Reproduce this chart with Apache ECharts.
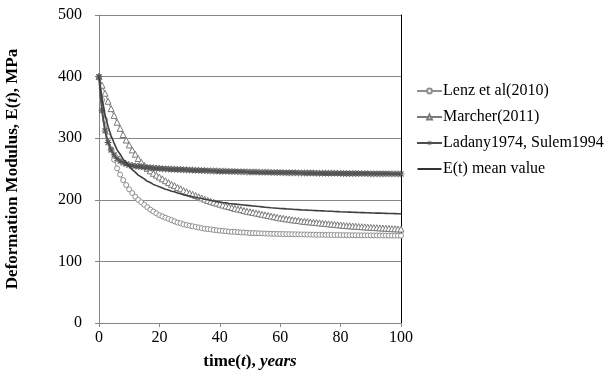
<!DOCTYPE html>
<html>
<head>
<meta charset="utf-8">
<script src="https://cdn.jsdelivr.net/npm/echarts@6/dist/echarts.min.js"></script>
<style>
  html, body { margin: 0; padding: 0; background: #ffffff; }
  #chart { width: 606px; height: 376px; }
</style>
</head>
<body>
<div id="chart"></div>
<script>
// years 0..100, one point per year
const years = Array.from({ length: 101 }, (_, i) => i);

const xTicks = [0, 20, 40, 60, 80, 100];
const yTicks = [0, 100, 200, 300, 400, 500];

const lenz = [
  400, 362, 330, 303, 282, 265, 251, 241, 232, 224,
  217, 211, 205, 200, 196, 192, 188, 184, 181, 178,
  175, 173, 171, 169, 167, 165, 163, 162, 160, 159,
  158, 157, 156, 155, 154, 153, 152.5, 152, 151, 150.5,
  150, 149.5, 149, 148.5, 148, 148, 147.5, 147, 147, 146.5,
  146, 146, 145.8, 145.6, 145.4, 145.2, 145, 144.8, 144.7, 144.6,
  144.5, 144.4, 144.3, 144.2, 144.1, 144, 143.9, 143.8, 143.7, 143.6,
  143.5, 143.4, 143.3, 143.2, 143.1, 143, 143, 142.9, 142.8, 142.8,
  142.7, 142.6, 142.6, 142.5, 142.5, 142.4, 142.4, 142.3, 142.3, 142.2,
  142.2, 142.1, 142.1, 142, 142, 142, 141.9, 141.9, 141.9, 141.8,
  141.8
];

const marcher = [
  400, 386, 373, 360, 348, 337, 326, 316, 306, 297,
  289, 281, 274, 267, 261, 256, 251, 247, 243, 240,
  237, 234, 231, 228, 225, 223, 220, 218, 215, 213,
  211, 209, 207, 205, 203, 201, 199, 197.5, 196, 194.5,
  193, 191.5, 190, 189, 187.5, 186, 185, 184, 182.5, 181.5,
  180.5, 179.5, 178.5, 177.5, 176.5, 175.5, 174.5, 173.5, 172.5, 171.5,
  170.5, 170, 169, 168.5, 167.5, 167, 166.5, 165.5, 165, 164.5,
  164, 163.5, 163, 162.5, 162, 161.5, 161, 160.5, 160, 159.5,
  159, 158.5, 158, 157.8, 157.4, 157, 156.6, 156.3, 156, 155.6,
  155.3, 155, 154.7, 154.4, 154.1, 153.8, 153.5, 153.2, 153, 152.7,
  152.5
];

const ladany = [
  400, 345, 312, 293, 281, 273, 267, 263, 260, 258,
  256.5, 255.5, 254.8, 254, 253.5, 253, 252.5, 252, 251.6, 251.2,
  250.8, 250.5, 250.2, 250, 249.7, 249.5, 249.3, 249, 248.8, 248.6,
  248.4, 248.2, 248, 247.8, 247.6, 247.4, 247.2, 247, 246.9, 246.7,
  246.5, 246.4, 246.2, 246.1, 246, 245.8, 245.7, 245.6, 245.5, 245.3,
  245.2, 245.1, 245, 244.9, 244.8, 244.7, 244.6, 244.5, 244.4, 244.3,
  244.2, 244.1, 244, 244, 243.9, 243.8, 243.7, 243.7, 243.6, 243.5,
  243.5, 243.4, 243.3, 243.3, 243.2, 243.2, 243.1, 243, 243, 242.9,
  242.9, 242.8, 242.8, 242.7, 242.7, 242.6, 242.6, 242.5, 242.5, 242.5,
  242.4, 242.4, 242.3, 242.3, 242.3, 242.2, 242.2, 242.1, 242.1, 242.1,
  242
];

const meanValue = [
  400, 365, 338, 319, 304, 292, 281, 274, 266, 260,
  254, 249, 245, 240, 237, 234, 230, 228, 225, 223,
  221, 219, 217, 216, 214, 213, 211, 210, 208, 207,
  206, 205, 204, 203, 202, 201, 200, 199, 198, 197,
  196.5, 195.5, 195, 194, 193.5, 193, 192.5, 192, 191.5, 191,
  190.5, 190, 189.5, 189, 188.5, 188, 187.5, 187, 186.7, 186.4,
  186, 185.7, 185.3, 185, 184.7, 184.3, 184, 183.7, 183.5, 183.2,
  183, 182.7, 182.5, 182.2, 182, 181.7, 181.5, 181.3, 181, 180.8,
  180.5, 180.3, 180.1, 180, 179.8, 179.6, 179.4, 179.2, 179.1, 178.9,
  178.7, 178.6, 178.4, 178.3, 178.1, 178, 177.8, 177.7, 177.6, 177.4,
  177.3
];

const seriesNames = ['Lenz et al(2010)', 'Marcher(2011)', 'Ladany1974, Sulem1994', 'E(t) mean value'];

const FONT = '"Liberation Serif", "Times New Roman", serif';
const starPath = 'path://M4,0L5,0L5,9L4,9Z M0,4L9,4L9,5L0,5Z M1,1L2,1L8,7L8,8L7,8L1,2Z M7,1L8,1L8,2L2,8L1,8L1,7Z';
// plain line icon for the mean series in the legend (tiny corner dots fix the box)
const lineIcon = 'path://M0,0L0.01,0L0.01,0.01Z M0,2.1L24,2.1L24,3.9L0,3.9Z M0,6L0.01,6L0.01,5.99Z';

const pairs = vals => years.map((t, i) => [t, vals[i]]);

const chart = echarts.init(document.getElementById('chart'), null, { renderer: 'canvas' });

const titleRich = {
  b: { fontFamily: FONT, fontSize: 17, fontWeight: 'bold', color: '#000' },
  bi: { fontFamily: FONT, fontSize: 17, fontWeight: 'bold', fontStyle: 'italic', color: '#000' }
};

const option = {
  backgroundColor: '#ffffff',
  animation: false,
  textStyle: { fontFamily: FONT },
  grid: { left: 99, right: 205, top: 15, bottom: 53 },
  legend: {
    orient: 'vertical',
    left: 411,
    top: 78,
    itemWidth: 25,
    itemHeight: 6,
    itemGap: 10,
    data: [
      { name: seriesNames[0] },
      { name: seriesNames[1] },
      { name: seriesNames[2] },
      { name: seriesNames[3], icon: lineIcon, itemStyle: { color: '#333333' } }
    ],
    textStyle: { fontFamily: FONT, fontSize: 16, color: '#000', lineHeight: 16, padding: [0, 0, 0, -4] }
  },
  xAxis: {
    type: 'value',
    min: 0,
    max: 100,
    interval: 20,
    name: '{b|time(}{bi|t}{b|), }{bi|years}',
    nameLocation: 'middle',
    nameGap: 30,
    nameTextStyle: { rich: titleRich },
    axisLine: { lineStyle: { color: '#868686', width: 1 } },
    axisTick: { show: true, inside: false, length: 4, lineStyle: { color: '#868686' } },
    axisLabel: {
      color: '#000', fontSize: 16, fontFamily: FONT, margin: 7,
      formatter: v => (xTicks.includes(v) ? String(v) : '')
    },
    splitLine: { show: false }
  },
  yAxis: [
    {
      type: 'value',
      min: 0,
      max: 500,
      interval: 100,
      name: '{b|Deformation Modulus, E(}{bi|t}{b|), MPa}',
      nameLocation: 'middle',
      nameRotate: 90,
      nameGap: 78,
      nameTextStyle: { rich: titleRich },
      axisLine: { show: true, lineStyle: { color: '#868686', width: 1 } },
      axisTick: { show: true, inside: false, length: 4, lineStyle: { color: '#868686' } },
      axisLabel: {
        color: '#000', fontSize: 16, fontFamily: FONT, margin: 17,
        formatter: v => (yTicks.includes(v) ? String(v) : '')
      },
      splitLine: { show: true, lineStyle: { color: '#868686', width: 1 } }
    },
    {
      type: 'value',
      min: 0,
      max: 500,
      interval: 100,
      position: 'right',
      axisLine: { show: true, lineStyle: { color: '#000', width: 1 } },
      axisTick: { show: false },
      axisLabel: { show: false },
      splitLine: { show: false }
    }
  ],
  series: [
    {
      name: seriesNames[0],
      type: 'line',
      data: pairs(lenz),
      symbol: 'circle',
      symbolSize: 5,
      showAllSymbol: true,
      itemStyle: { color: '#ffffff', borderColor: '#8f8f8f', borderWidth: 1 },
      lineStyle: { color: '#8f8f8f', width: 1 },
      z: 2
    },
    {
      name: seriesNames[1],
      type: 'line',
      data: pairs(marcher),
      symbol: 'triangle',
      symbolSize: 6,
      showAllSymbol: true,
      itemStyle: { color: '#ffffff', borderColor: '#7a7a7a', borderWidth: 1 },
      lineStyle: { color: '#7a7a7a', width: 1 },
      z: 3
    },
    {
      name: seriesNames[2],
      type: 'line',
      data: pairs(ladany),
      symbol: starPath,
      symbolSize: 7,
      showAllSymbol: true,
      itemStyle: { color: '#555555' },
      lineStyle: { color: '#4d4d4d', width: 2 },
      z: 4
    },
    {
      name: seriesNames[3],
      type: 'line',
      data: pairs(meanValue),
      symbol: 'none',
      itemStyle: { color: '#404040' },
      lineStyle: { color: '#404040', width: 1.6 },
      z: 5
    }
  ]
};

chart.setOption(option);
</script>
</body>
</html>
